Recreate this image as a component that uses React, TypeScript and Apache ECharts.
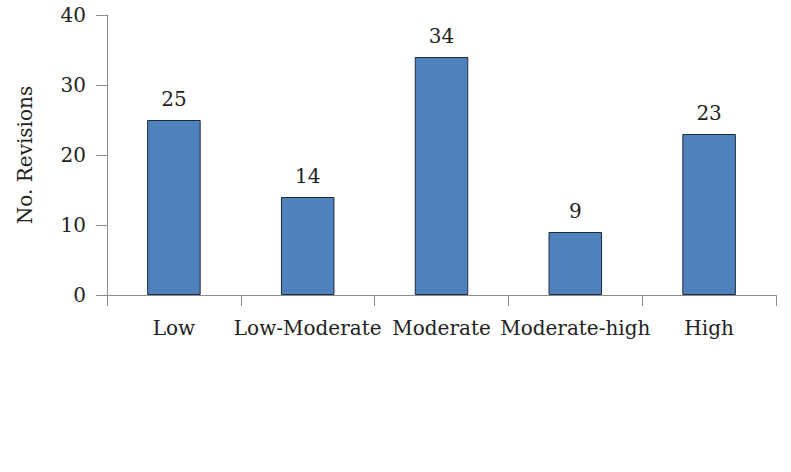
import React, { useEffect, useRef } from "react";
import * as echarts from "echarts";

const categories = ["Low", "Low-Moderate", "Moderate", "Moderate-high", "High"];
const revisions = [25, 14, 34, 9, 23];
const yTicks = [0, 10, 20, 30, 40];

const FONT = "'DejaVu Serif', 'Liberation Serif', serif";

export default function App() {
  const ref = useRef<HTMLDivElement>(null);
  useEffect(() => {
    if (!ref.current) return;
    const chart = echarts.init(ref.current, undefined, { renderer: "svg" });
    chart.setOption({
      animation: false,
      backgroundColor: "#ffffff",
      grid: { left: 107, right: 15, top: 15, bottom: 177, containLabel: false },
      xAxis: {
        type: "category",
        data: categories,
        boundaryGap: true,
        axisLine: { show: true, lineStyle: { color: "#8c8c8c", width: 1 } },
        axisTick: { show: true, length: 11, inside: false, alignWithLabel: false, lineStyle: { color: "#8c8c8c" } },
        axisLabel: { interval: 0, margin: 23, color: "#222", fontFamily: FONT, fontSize: 20 },
      },
      yAxis: {
        type: "value",
        min: yTicks[0],
        max: yTicks[yTicks.length - 1],
        interval: 10,
        name: "No. Revisions",
        nameLocation: "middle",
        nameRotate: 90,
        nameGap: 72,
        nameTextStyle: { color: "#222", fontFamily: FONT, fontSize: 20 },
        axisLine: { show: true, lineStyle: { color: "#8c8c8c", width: 1 } },
        axisTick: { show: true, length: 11, lineStyle: { color: "#8c8c8c" } },
        splitLine: { show: false },
        axisLabel: { margin: 21, color: "#222", fontFamily: FONT, fontSize: 20 },
      },
      series: [
        {
          type: "bar",
          data: revisions,
          barWidth: "40%",
          itemStyle: { color: "#4f81bd", borderColor: "#1e2b3a", borderWidth: 1 },
          label: {
            show: true,
            position: "top",
            distance: 11,
            color: "#222",
            fontFamily: FONT,
            fontSize: 20,
          },
        },
      ],
    });
    return () => chart.dispose();
  }, []);
  return <div ref={ref} style={{ width: 791, height: 472, position: "absolute", left: 0, top: 0 }} />;
}
